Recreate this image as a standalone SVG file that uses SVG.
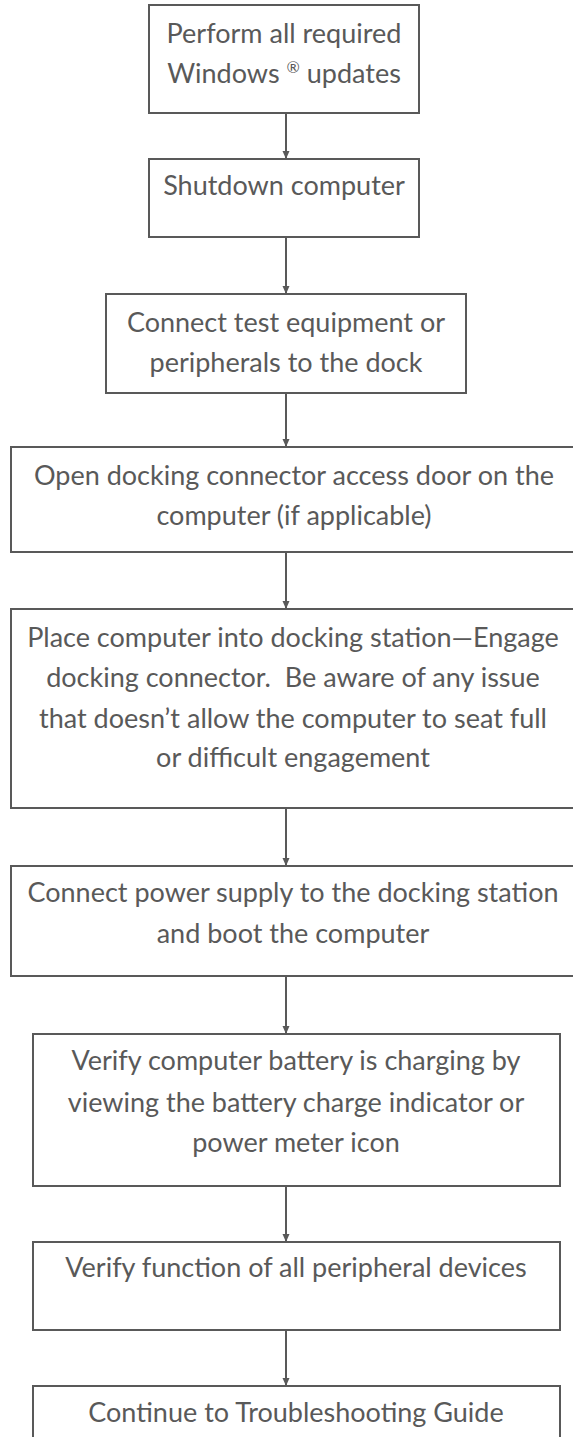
<svg xmlns="http://www.w3.org/2000/svg" width="573" height="1437" viewBox="0 0 573 1437">
<style>
.box{fill:#ffffff;stroke:#595959;stroke-width:2}
.t{font-family:Lato,"Open Sans","Liberation Sans",sans-serif;font-size:27px;fill:#595959;text-anchor:middle}
.c{stroke:#595959;stroke-width:2;fill:none;marker-end:url(#ah)}
</style>
<defs>
<marker id="ah" viewBox="0 0 8 8" refX="8" refY="4" markerWidth="8" markerHeight="8" markerUnits="userSpaceOnUse" orient="auto">
<path d="M0,0.5 L8,4 L0,7.5 z" fill="#595959"/>
</marker>
</defs>
<rect x="0" y="0" width="573" height="1437" fill="#ffffff"/>
<g id="connectors">
<line class="c" x1="286" y1="113" x2="286" y2="159"/>
<line class="c" x1="286" y1="237" x2="286" y2="294"/>
<line class="c" x1="286" y1="393" x2="286" y2="447"/>
<line class="c" x1="286" y1="552" x2="286" y2="609"/>
<line class="c" x1="286" y1="808" x2="286" y2="866"/>
<line class="c" x1="286" y1="976" x2="286" y2="1034"/>
<line class="c" x1="286" y1="1186" x2="286" y2="1242"/>
<line class="c" x1="286" y1="1330" x2="286" y2="1386"/>
</g>
<g id="n1">
<rect class="box" x="149" y="5" width="270" height="108"/>
<text class="t" x="284" y="43">Perform all required</text>
<text class="t" x="284" y="83">Windows <tspan font-size="16" dy="-10">®</tspan><tspan dy="10"> updates</tspan></text>
</g>
<g id="n2">
<rect class="box" x="149" y="159" width="270" height="78"/>
<text class="t" x="284" y="195">Shutdown computer</text>
</g>
<g id="n3">
<rect class="box" x="106" y="294" width="360" height="99"/>
<text class="t" x="286" y="332">Connect test equipment or</text>
<text class="t" x="286" y="372">peripherals to the dock</text>
</g>
<g id="n4">
<rect class="box" x="11" y="447" width="566" height="105"/>
<text class="t" x="294" y="485">Open docking connector access door on the</text>
<text class="t" x="294" y="525">computer (if applicable)</text>
</g>
<g id="n5">
<rect class="box" x="11" y="609" width="566" height="199"/>
<text class="t" x="293" y="647">Place computer into docking station—Engage</text>
<text class="t" x="293" y="687">docking connector.&#160; Be aware of any issue</text>
<text class="t" x="293" y="728">that doesn’t allow the computer to seat full</text>
<text class="t" x="293" y="767">or difficult engagement</text>
</g>
<g id="n6">
<rect class="box" x="11" y="866" width="566" height="110"/>
<text class="t" x="293" y="902">Connect power supply to the docking station</text>
<text class="t" x="293" y="943">and boot the computer</text>
</g>
<g id="n7">
<rect class="box" x="33" y="1034" width="527" height="152"/>
<text class="t" x="296" y="1070">Verify computer battery is charging by</text>
<text class="t" x="296" y="1112">viewing the battery charge indicator or</text>
<text class="t" x="296" y="1152">power meter icon</text>
</g>
<g id="n8">
<rect class="box" x="33" y="1242" width="527" height="88"/>
<text class="t" x="296" y="1277">Verify function of all peripheral devices</text>
</g>
<g id="n9">
<rect class="box" x="33" y="1386" width="527" height="70"/>
<text class="t" x="296" y="1422">Continue to Troubleshooting Guide</text>
</g>
</svg>
